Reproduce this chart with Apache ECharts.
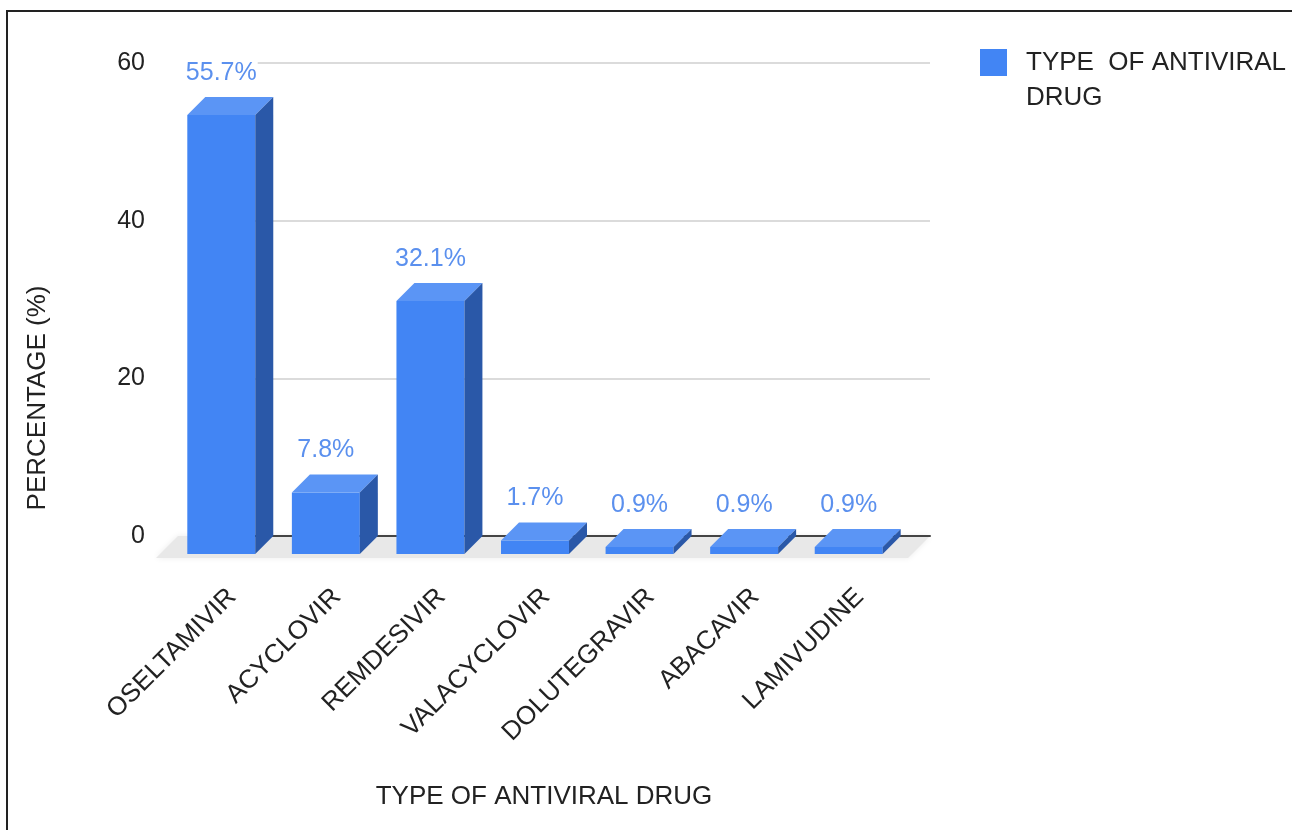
<!DOCTYPE html>
<html>
<head>
<meta charset="utf-8">
<script src="https://cdn.jsdelivr.net/npm/echarts@6/dist/echarts.min.js"></script>
<style>
  html, body { margin: 0; padding: 0; background: #fff; }
  #chart { width: 1292px; height: 830px; }
</style>
</head>
<body>
<div id="chart"></div>
<script>
// Share of patients by antiviral drug
const categories = ['OSELTAMIVIR', 'ACYCLOVIR', 'REMDESIVIR', 'VALACYCLOVIR', 'DOLUTEGRAVIR', 'ABACAVIR', 'LAMIVUDINE'];
const percentages = [55.7, 7.8, 32.1, 1.7, 0.9, 0.9, 0.9];
const yTickValues = [0, 20, 40, 60];
const seriesName = 'TYPE  OF ANTIVIRAL DRUG';
const xTitle = 'TYPE OF ANTIVIRAL DRUG';
const yTitle = 'PERCENTAGE (%)';

const FONT = '"Liberation Sans", Arial, Helvetica, sans-serif';
const DEPTH = 18;             // pseudo-3D offset of the back faces, px
const FACE = '#4285f4';
const TOP_FACE = '#5b95f5';
const SIDE_FACE = '#2a58a8';
const LABEL_BLUE = '#5b90ee';

const yMin = yTickValues[0];
const yMax = yTickValues[yTickValues.length - 1];
const yStep = yTickValues[1] - yTickValues[0];

const chart = echarts.init(document.getElementById('chart'));

// Extruded bar: front face, top face, right side face and value label
function boxItem(params, api) {
  const i = api.value(0);
  const v = api.value(1);
  const top = api.coord([i, v]);
  const base = api.coord([i, 0]);
  const bw = api.size([1, 0])[0] * 0.65;
  const x0 = top[0] - bw / 2, x1 = top[0] + bw / 2;
  const yt = top[1], yb = base[1];
  const d = DEPTH;
  return {
    type: 'group',
    children: [
      { type: 'rect', shape: { x: x0, y: yt, width: bw, height: yb - yt }, style: { fill: FACE } },
      { type: 'polygon', shape: { points: [[x0, yt], [x0 + d, yt - d], [x1 + d, yt - d], [x1, yt]] }, style: { fill: TOP_FACE } },
      { type: 'polygon', shape: { points: [[x1, yt], [x1 + d, yt - d], [x1 + d, yb - d], [x1, yb]] }, style: { fill: SIDE_FACE } },
      {
        type: 'text', x: top[0], y: yt - d - 24, z2: 10,
        style: {
          text: v.toFixed(1) + '%', align: 'center', verticalAlign: 'middle',
          fontSize: 25, fontFamily: FONT, fill: LABEL_BLUE,
          backgroundColor: '#fff', padding: [0, 1]
        }
      }
    ]
  };
}

// Grey floor the bars stand on
function floorItem(params, api) {
  const bw = api.size([1, 0])[0];
  const a = api.coord([0, 0]);
  const b = api.coord([categories.length - 1, 0]);
  const xl = a[0] - bw / 2 - 13, xr = b[0] + bw / 2 + 7;
  const y = a[1] + 4, s = 22;
  return {
    type: 'polygon',
    shape: { points: [[xl, y], [xr, y], [xr + s, y - s], [xl + s, y - s]] },
    style: { fill: '#e8e8e8', shadowBlur: 6, shadowColor: 'rgba(0,0,0,0.08)' }
  };
}

const valueAxisBase = { type: 'value', min: yMin, max: yMax, interval: yStep };

chart.setOption({
  animation: false,
  backgroundColor: '#fff',
  grid: [
    { left: 169, right: 391, top: 81, bottom: 276 },   // front plane (bars)
    { left: 180, right: 380, top: 63, bottom: 294 },   // label plane
    { left: 190, right: 362, top: 63, bottom: 294 }    // back wall (grid lines)
  ],
  xAxis: [
    { gridIndex: 0, type: 'category', data: categories, show: false },
    {
      gridIndex: 1, type: 'category', data: categories,
      axisLine: { show: false }, axisTick: { show: false },
      axisLabel: { interval: 0, rotate: 45, margin: 57, fontSize: 26, color: '#222', fontFamily: FONT }
    },
    {
      gridIndex: 2, type: 'category', data: categories,
      axisLine: { lineStyle: { color: '#444', width: 2 } },
      axisTick: { show: false }, axisLabel: { show: false }
    }
  ],
  yAxis: [
    Object.assign({ gridIndex: 0, show: false }, valueAxisBase),
    Object.assign({
      gridIndex: 1,
      axisLine: { show: false }, axisTick: { show: false }, splitLine: { show: false },
      axisLabel: { margin: 35, fontSize: 25, color: '#222', fontFamily: FONT }
    }, valueAxisBase),
    Object.assign({
      gridIndex: 2,
      axisLine: { show: false }, axisTick: { show: false }, axisLabel: { show: false },
      splitLine: { lineStyle: { color: '#cfcfcf', width: 1.5 } }
    }, valueAxisBase)
  ],
  legend: {
    left: 980, top: 10, padding: 0,
    icon: 'rect', itemWidth: 27, itemHeight: 27,
    // leading blank line keeps the swatch level with the first text line
    formatter: name => '\n' + name.replace(/ DRUG$/, '\nDRUG'),
    textStyle: { fontSize: 26, color: '#222', fontFamily: FONT, lineHeight: 35, padding: [0, 0, 0, 14] },
    data: [{ name: seriesName, itemStyle: { color: FACE } }]
  },
  series: [
    {
      type: 'custom', name: 'floor', xAxisIndex: 0, yAxisIndex: 0, z: -1,
      silent: true, renderItem: floorItem, data: [[0, 0]]
    },
    {
      type: 'custom', name: seriesName, xAxisIndex: 0, yAxisIndex: 0, z: 3,
      itemStyle: { color: FACE },
      renderItem: boxItem,
      data: percentages.map((v, i) => [i, v])
    }
  ],
  graphic: [
    { type: 'rect', z: -10, shape: { x: 7, y: 11, width: 1400, height: 900 }, style: { fill: null, stroke: '#222', lineWidth: 2 } },
    { type: 'text', x: 38, y: 398, rotation: Math.PI / 2, style: { text: yTitle, align: 'center', verticalAlign: 'middle', fontSize: 26, fill: '#222', fontFamily: FONT } },
    { type: 'text', x: 544, y: 797, style: { text: xTitle, align: 'center', verticalAlign: 'middle', fontSize: 26, fill: '#222', fontFamily: FONT } }
  ]
});
</script>
</body>
</html>
